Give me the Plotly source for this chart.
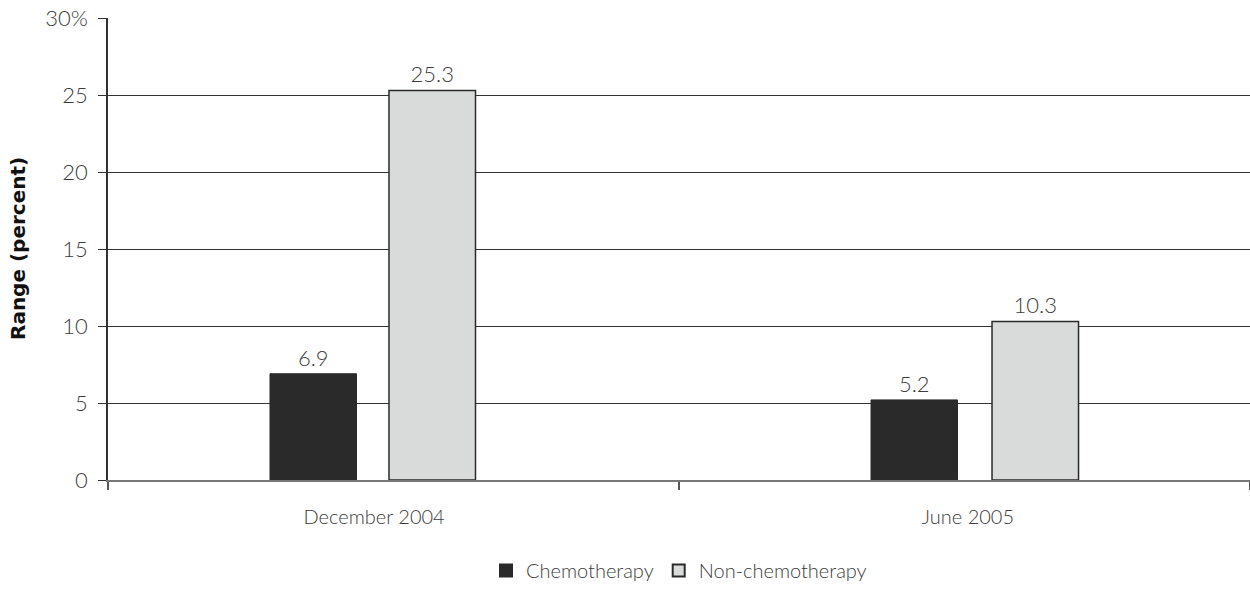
import plotly.graph_objects as go

categories = ["December 2004", "June 2005"]
chemo = [6.9, 5.2]
non_chemo = [25.3, 10.3]
y_ticks = [0, 5, 10, 15, 20, 25, 30]
y_tick_labels = ["0", "5", "10", "15", "20", "25", "30%"]
y_title = "Range (percent)"

# layout/style constants (category units)
x_pos = list(range(len(categories)))
BAR_W = 0.1515
chemo_offset = [-0.2163, -0.1637]
non_offset = [-0.0079, 0.0482]
label_shift = [-0.034, 0.006]

FONT = "Lato"
TXT = "#3c3c3c"
fig = go.Figure()
fig.add_trace(go.Bar(
    x=x_pos, y=chemo, name="Chemotherapy", width=BAR_W, offset=chemo_offset,
    marker=dict(color="#2a2a2a", line=dict(color="#2a2a2a", width=1)),
    text=[f"{v:.1f}" for v in chemo], textposition="outside",
    textfont=dict(family=FONT, size=22, color=TXT, weight=300), cliponaxis=False,
))
fig.add_trace(go.Bar(
    x=x_pos, y=non_chemo, name="Non-chemotherapy", width=BAR_W, offset=non_offset,
    marker=dict(color="#d9dbdb", line=dict(color="#2a2a2a", width=1.5)),
    text=[f"{v:.1f}" for v in non_chemo], textposition="outside",
    textfont=dict(family=FONT, size=22, color=TXT, weight=300), cliponaxis=False,
))

fig.add_annotation(
    text=f"<b>{y_title}</b>", textangle=-90, showarrow=False,
    xref="paper", yref="paper", x=-0.0788, y=0.5, xanchor="center", yanchor="middle",
    font=dict(family="DejaVu Sans", size=20, color="#111111"),
)

fig.update_layout(
    width=1250, height=590,
    margin=dict(l=108, r=0, t=18, b=104),
    paper_bgcolor="white", plot_bgcolor="white",
    barmode="overlay",
    font=dict(family=FONT, size=20, color=TXT, weight=300),
    showlegend=True,
    legend=dict(orientation="h", x=0.5, xanchor="center", y=-0.197, yanchor="middle",
                font=dict(family=FONT, size=20, color=TXT, weight=300), itemwidth=30,
                tracegroupgap=0, itemsizing="constant"),
    xaxis=dict(
        range=[-0.5, 1.5], automargin=False,
        tickvals=[p + s for p, s in zip(x_pos, label_shift)], ticktext=categories,
        ticks="", showline=True, linecolor="#777777", linewidth=2,
        showgrid=False, zeroline=False,
        tickfont=dict(family=FONT, size=20, color=TXT, weight=300), ticklabelstandoff=18,
        minor=dict(tickvals=[-0.5, 0.5, 1.5], ticks="outside", ticklen=8,
                   tickcolor="#555555", tickwidth=1.5, showgrid=False),
    ),
    yaxis=dict(
        range=[0, 30], automargin=False, tickvals=y_ticks, ticktext=y_tick_labels,
        ticks="outside", ticklen=8, tickcolor="#333333",
        showline=True, linecolor="#333333", linewidth=1.5,
        showgrid=True, gridcolor="#333333", gridwidth=1, zeroline=False,
        tickfont=dict(family=FONT, size=22, color=TXT, weight=300), ticklabelstandoff=6,
    ),
)
fig.write_html("out.html")
